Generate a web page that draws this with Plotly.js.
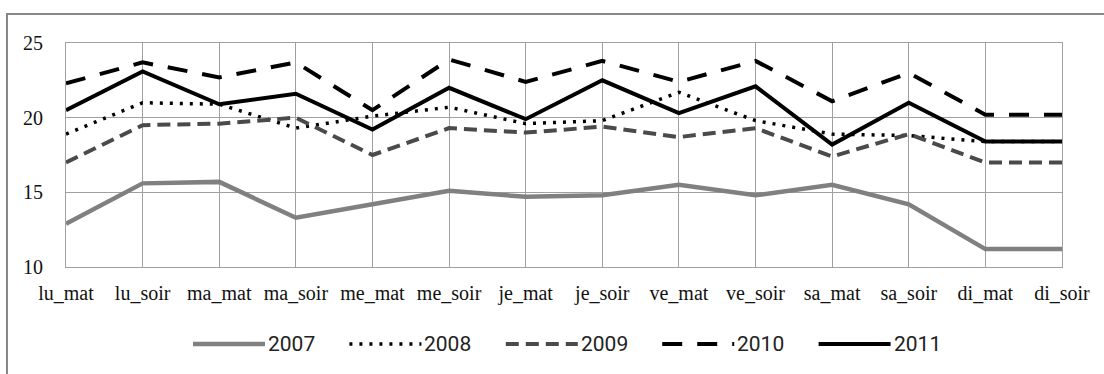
<!DOCTYPE html>
<html>
<head>
<meta charset="utf-8">
<script src="https://cdn.plot.ly/plotly-3.0.1.min.js"></script>
<style>
  html, body { margin: 0; padding: 0; background: #fff; }
  #chart { width: 1104px; height: 374px; }
</style>
</head>
<body>
<div id="chart"></div>
<script>
// Time slots (day + morning/evening)
const categories = ['lu_mat', 'lu_soir', 'ma_mat', 'ma_soir', 'me_mat', 'me_soir', 'je_mat',
                    'je_soir', 've_mat', 've_soir', 'sa_mat', 'sa_soir', 'di_mat', 'di_soir'];

// Yearly series
const y2007 = [12.9, 15.6, 15.7, 13.3, 14.2, 15.1, 14.7, 14.8, 15.5, 14.8, 15.5, 14.2, 11.2, 11.2];
const y2008 = [18.9, 21.0, 20.9, 19.3, 20.1, 20.7, 19.6, 19.8, 21.7, 19.8, 18.9, 18.8, 18.4, 18.4];
const y2009 = [17.0, 19.5, 19.6, 20.0, 17.5, 19.3, 19.0, 19.4, 18.7, 19.3, 17.4, 18.9, 17.0, 17.0];
const y2010 = [22.3, 23.7, 22.7, 23.7, 20.5, 23.9, 22.4, 23.8, 22.4, 23.8, 21.1, 23.0, 20.2, 20.2];
const y2011 = [20.5, 23.1, 20.9, 21.6, 19.2, 22.0, 19.9, 22.5, 20.3, 22.1, 18.2, 21.0, 18.4, 18.4];

const seriesNames = ['2007', '2008', '2009', '2010', '2011'];
const yTicks = [10, 15, 20, 25];

// Line styles per series
const styles = [
  { color: '#808080', width: 4.5, dash: 'solid' },
  { color: '#000000', width: 3.5, dash: '3px,7px' },
  { color: '#4a4a4a', width: 4, dash: '13px,7px' },
  { color: '#000000', width: 4, dash: '20px,15px' },
  { color: '#000000', width: 4, dash: 'solid' }
];

const values = [y2007, y2008, y2009, y2010, y2011];

const traces = values.map((v, i) => ({
  type: 'scatter',
  mode: 'lines',
  name: seriesNames[i],
  x: categories,
  y: v,
  line: { color: styles[i].color, width: styles[i].width, dash: styles[i].dash },
  hoverinfo: 'x+y+name'
}));

// Plot area geometry in pixels
const W = 1104, H = 374;
const M = { l: 66, r: 42, t: 43, b: 107 };
const PW = W - M.l - M.r, PH = H - M.t - M.b;
const px2x = px => (px - M.l) / PW;
const px2y = py => 1 - (py - M.t) / PH;

const shapes = [];
const annotations = [];

// Outer frame (left and top edges)
shapes.push({ type: 'line', xref: 'paper', yref: 'paper', layer: 'above',
  x0: px2x(7), x1: px2x(7), y0: px2y(380), y1: px2y(14),
  line: { color: '#878787', width: 2 } });
shapes.push({ type: 'line', xref: 'paper', yref: 'paper', layer: 'above',
  x0: px2x(6), x1: px2x(1110), y0: px2y(14), y1: px2y(14),
  line: { color: '#878787', width: 2 } });

// Legend row below the axis
const legStart = 193, legPitch = 156.4, legLine = 72, legY = 344;
const legendFont = { family: "Roboto, 'Liberation Sans', sans-serif", size: 21, color: '#222' };
seriesNames.forEach((name, i) => {
  const x0 = legStart + i * legPitch;
  shapes.push({ type: 'line', xref: 'paper', yref: 'paper',
    x0: px2x(x0), x1: px2x(x0 + legLine), y0: px2y(legY), y1: px2y(legY),
    line: { color: styles[i].color, width: styles[i].width, dash: styles[i].dash } });
  annotations.push({ xref: 'paper', yref: 'paper', x: px2x(x0 + legLine + 1), y: px2y(legY),
    xanchor: 'left', yanchor: 'middle', showarrow: false, text: name,
    font: legendFont });
});

const tickFont = { family: "'Liberation Serif', 'Times New Roman', serif", size: 20, color: '#111' };

const layout = {
  width: W, height: H,
  margin: M,
  paper_bgcolor: '#ffffff',
  plot_bgcolor: '#ffffff',
  showlegend: false,
  xaxis: {
    type: 'category',
    range: [0, categories.length - 1],
    showgrid: true, gridcolor: '#a0a0a0', gridwidth: 1,
    showline: true, linecolor: '#a0a0a0', linewidth: 1, mirror: true,
    ticks: '', ticklabelstandoff: 8,
    tickfont: tickFont,
    zeroline: false, fixedrange: true
  },
  yaxis: {
    range: [10, 25],
    tickvals: yTicks,
    ticktext: yTicks.map(String),
    showgrid: true, gridcolor: '#a0a0a0', gridwidth: 1,
    showline: true, linecolor: '#a0a0a0', linewidth: 1, mirror: true,
    ticks: '', ticklabelstandoff: 18,
    tickfont: tickFont,
    zeroline: false, fixedrange: true
  },
  shapes: shapes,
  annotations: annotations
};

Plotly.newPlot('chart', traces, layout, { displayModeBar: false, staticPlot: true });
</script>
</body>
</html>
